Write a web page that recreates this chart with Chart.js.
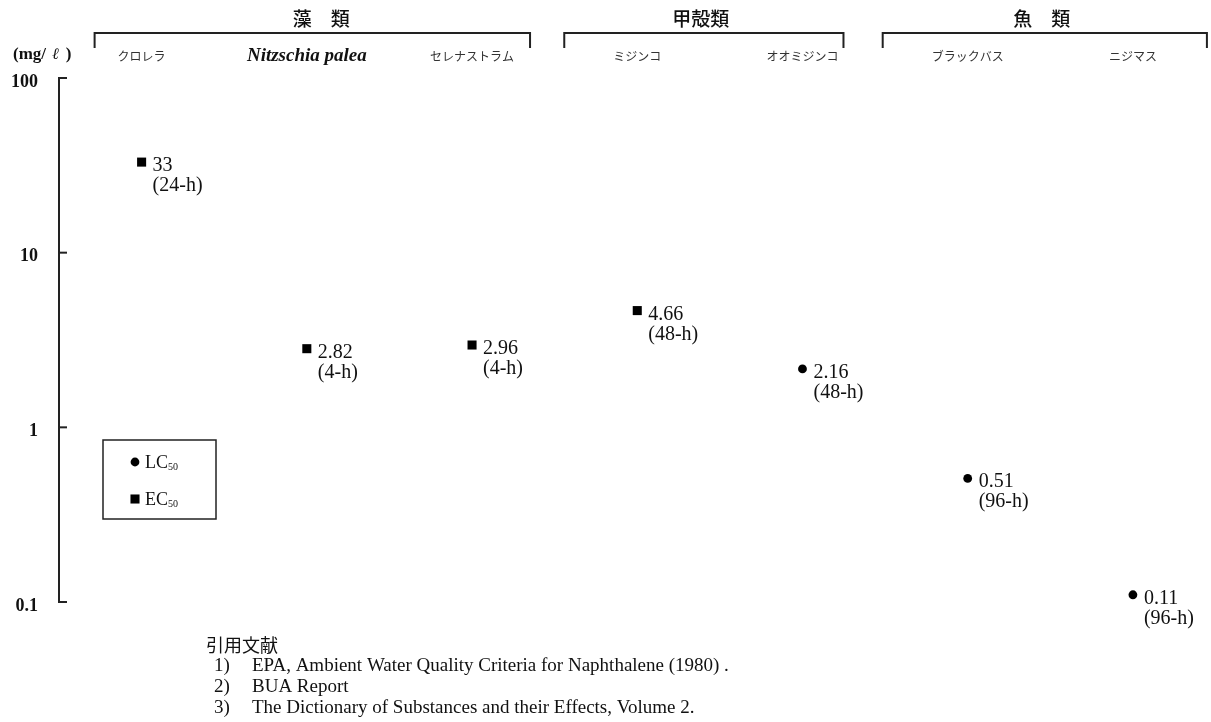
<!DOCTYPE html>
<html><head><meta charset="utf-8">
<script src="https://cdn.jsdelivr.net/npm/chart.js@4/dist/chart.umd.min.js"></script>
<style>html,body{margin:0;padding:0;background:#fff;}#wrap{width:1211px;height:722px;}</style>
</head><body><div id="wrap"><canvas id="c" width="1211" height="722"></canvas></div>
<script>
// ---- data ----
const species = ['クロレラ', 'Nitzschia palea', 'セレナストラム', 'ミジンコ', 'オオミジンコ', 'ブラックバス', 'ニジマス'];
const latinName = [false, true, false, false, false, false, false];
const groups = ['藻　類', '甲殻類', '魚　類'];
const groupFirst = [0, 3, 5];
const groupLast = [2, 4, 6];
const endpoints = ['EC50', 'EC50', 'EC50', 'EC50', 'LC50', 'LC50', 'LC50'];
const values = [33, 2.82, 2.96, 4.66, 2.16, 0.51, 0.11];
const durations = ['24-h', '4-h', '4-h', '48-h', '48-h', '96-h', '96-h'];
const yTickValues = [0.1, 1, 10, 100];
const yTickLabels = ['0.1', '1', '10', '100'];
const unitParts = ['(mg/', 'ℓ', ')'];
const legendNames = ['LC', 'EC'];
const legendSubs = ['50', '50'];
const refTitle = '引用文献';
const refNumbers = ['1)', '2)', '3)'];
const references = ['EPA, Ambient Water Quality Criteria for Naphthalene (1980) .', 'BUA Report', 'The Dictionary of Substances and their Effects, Volume 2.'];

// ---- layout / style ----
const SERIF = '"Liberation Serif", "Times New Roman", serif';
const JP = '"Noto Sans CJK JP", sans-serif';
const bracketOffsets = [[-47, 58], [-73, 41], [-85, 74]];
const titleShift = [9, -3, -3];

function pointsFor(ep) {
  const out = [];
  values.forEach((v, i) => { if (endpoints[i] === ep) out.push({x: i, y: v}); });
  return out;
}

const overlay = {
  id: 'overlay',
  afterDraw(chart) {
    const ctx = chart.ctx;
    const xs = chart.scales.x, ys = chart.scales.y;
    const axisX = chart.chartArea.left;
    ctx.save();
    ctx.fillStyle = '#111';
    ctx.strokeStyle = '#222';
    // inward tick marks
    ctx.lineWidth = 2;
    yTickValues.forEach(v => {
      const y = ys.getPixelForValue(v);
      ctx.beginPath(); ctx.moveTo(axisX, y); ctx.lineTo(axisX + 8, y); ctx.stroke();
    });
    // unit label
    ctx.textAlign = 'left'; ctx.textBaseline = 'middle';
    let ux = 13;
    ctx.font = 'bold 17px ' + SERIF;
    ctx.fillText(unitParts[0], ux, 55); ux += ctx.measureText(unitParts[0]).width + 6;
    ctx.font = 'italic 16px ' + SERIF;
    ctx.fillText(unitParts[1], ux, 55); ux += ctx.measureText(unitParts[1]).width + 7;
    ctx.font = 'bold 17px ' + SERIF;
    ctx.fillText(unitParts[2], ux, 55);
    // group brackets & titles
    groups.forEach((g, k) => {
      const x0 = xs.getPixelForValue(groupFirst[k]) + bracketOffsets[k][0];
      const x1 = xs.getPixelForValue(groupLast[k]) + bracketOffsets[k][1];
      ctx.lineWidth = 2;
      ctx.beginPath();
      ctx.moveTo(x0, 48); ctx.lineTo(x0, 33); ctx.lineTo(x1, 33); ctx.lineTo(x1, 48);
      ctx.stroke();
      ctx.font = '500 19px ' + JP;
      ctx.textAlign = 'center'; ctx.textBaseline = 'middle';
      ctx.fillText(g, (x0 + x1) / 2 + titleShift[k], 19);
    });
    // species labels
    species.forEach((s, i) => {
      const x = xs.getPixelForValue(i);
      ctx.textAlign = 'center'; ctx.textBaseline = 'middle';
      if (latinName[i]) { ctx.font = 'italic bold 19px ' + SERIF; ctx.fillStyle = '#111'; }
      else { ctx.font = '12px ' + JP; ctx.fillStyle = '#333'; }
      ctx.fillText(s, x, 56);
    });
    // data labels
    ctx.fillStyle = '#111';
    ctx.font = '20px ' + SERIF;
    ctx.textAlign = 'left'; ctx.textBaseline = 'alphabetic';
    values.forEach((v, i) => {
      const x = xs.getPixelForValue(i), y = ys.getPixelForValue(v);
      ctx.fillText(String(v), x + 11, y + 9);
      ctx.fillText('(' + durations[i] + ')', x + 11, y + 29);
    });
    // legend box
    ctx.lineWidth = 1.5;
    ctx.strokeRect(103, 440, 113, 79);
    chart.data.datasets.forEach((ds, k) => {
      const cy = k === 0 ? 462 : 499;
      ctx.fillStyle = '#000';
      if (ds.pointStyle === 'circle') { ctx.beginPath(); ctx.arc(135, cy, ds.pointRadius, 0, Math.PI * 2); ctx.fill(); }
      else { const h = ds.pointRadius * Math.SQRT1_2; ctx.fillRect(135 - h, cy - h, 2 * h, 2 * h); }
      ctx.fillStyle = '#111';
      ctx.font = '18px ' + SERIF; ctx.textAlign = 'left'; ctx.textBaseline = 'alphabetic';
      ctx.fillText(legendNames[k], 145, cy + 6);
      const w = ctx.measureText(legendNames[k]).width;
      ctx.font = '10px ' + SERIF;
      ctx.fillText(legendSubs[k], 145 + w, cy + 8);
    });
    // references
    ctx.fillStyle = '#111';
    ctx.font = '18px ' + JP; ctx.textBaseline = 'middle'; ctx.textAlign = 'left';
    ctx.fillText(refTitle, 206, 645);
    ctx.font = '19px ' + SERIF;
    references.forEach((r, i) => {
      const y = 666 + i * 21;
      ctx.fillText(refNumbers[i], 214, y);
      ctx.fillText(r, 252, y);
    });
    ctx.restore();
  }
};

new Chart(document.getElementById('c'), {
  type: 'scatter',
  data: {
    datasets: [
      { label: 'LC50', data: pointsFor('LC50'), pointStyle: 'circle', pointRadius: 4.4, pointHoverRadius: 4.4,
        backgroundColor: '#000', borderColor: '#000', borderWidth: 0 },
      { label: 'EC50', data: pointsFor('EC50'), pointStyle: 'rect', pointRadius: 6.4, pointHoverRadius: 6.4,
        backgroundColor: '#000', borderColor: '#000', borderWidth: 0 }
    ]
  },
  options: {
    responsive: false, animation: false, events: [],
    layout: { padding: { left: 0, right: 12, top: 78, bottom: 120 } },
    plugins: { legend: { display: false }, tooltip: { enabled: false } },
    scales: {
      x: { type: 'linear', min: -0.5, max: 6.4, display: false },
      y: {
        type: 'logarithmic', min: 0.1, max: 100,
        afterBuildTicks: s => { s.ticks = yTickValues.map(v => ({ value: v })); },
        afterFit: s => { s.width = 59; },
        ticks: {
          autoSkip: false, padding: 21, labelOffset: 4, color: '#111',
          font: { family: SERIF, size: 18, weight: 'bold' },
          callback: v => { const i = yTickValues.indexOf(v); return i >= 0 ? yTickLabels[i] : ''; }
        },
        grid: { display: true, drawOnChartArea: false, drawTicks: false },
        border: { display: true, color: '#222', width: 2 }
      }
    }
  },
  plugins: [overlay]
});
</script></body></html>
